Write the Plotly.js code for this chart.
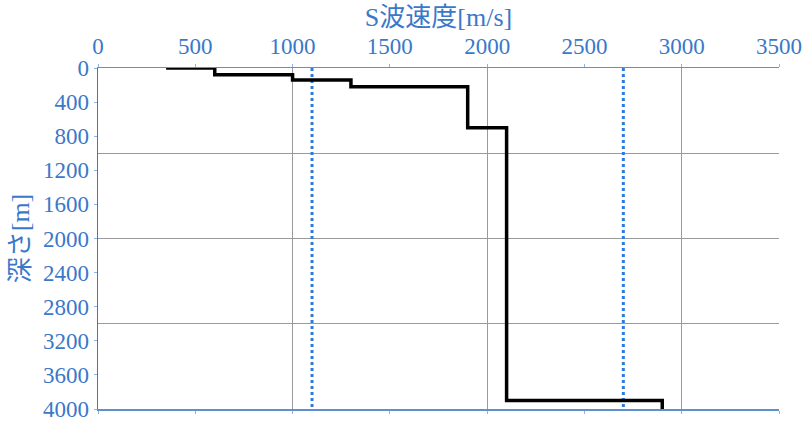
<!DOCTYPE html>
<html>
<head>
<meta charset="utf-8">
<script src="https://cdn.plot.ly/plotly-3.0.1.min.js"></script>
<style>html,body{margin:0;padding:0;background:#fff;}#chart{width:810px;height:426px;}</style>
</head>
<body>
<div id="chart"></div>
<script>
// Step profile: S-wave velocity vs depth (hv steps)
const stepVelocity = [350, 600, 1000, 1300, 1900, 2100, 2900];
const stepDepth    = [0, 80, 140, 220, 700, 3900, 4000];
// Dotted reference velocities
const refVelocityA = [1100, 1100];
const refVelocityB = [2700, 2700];
const refDepth     = [0, 4000];

const xTitle = 'S波速度[m/s]';
const yTitle = '深さ[m]';

const blue = '#3a78c9';
const fontFam = 'Times New Roman, Liberation Serif, Noto Sans CJK JP, serif';
const tickFam = 'Times New Roman, Liberation Serif, DejaVu Serif, serif';

const traces = [
  {x: refVelocityA, y: refDepth, mode: 'lines', line: {color: '#2f7bdc', width: 3, dash: '3px,3px'}, hoverinfo: 'skip'},
  {x: refVelocityB, y: refDepth, mode: 'lines', line: {color: '#2f7bdc', width: 3, dash: '3px,3px'}, hoverinfo: 'skip'},
  {x: stepVelocity, y: stepDepth, mode: 'lines', line: {color: '#000', width: 3.5, shape: 'hv'}, hoverinfo: 'skip'}
];

const layout = {
  width: 810, height: 426,
  margin: {l: 98, r: 31, t: 68, b: 17},
  paper_bgcolor: '#fff', plot_bgcolor: '#fff',
  showlegend: false,
  font: {family: fontFam, color: blue, size: 23},
  xaxis: {
    side: 'top', range: [0, 3500], dtick: 500, tick0: 0,
    showgrid: false, zeroline: false,
    showline: true, linecolor: '#5f8fcf', linewidth: 1.5, mirror: 'ticks',
    ticks: 'outside', ticklen: 3, tickcolor: '#8fb4e3', tickwidth: 1,
    tickfont: {family: tickFam, size: 23, color: blue},
    title: {text: xTitle, font: {family: fontFam, size: 26, color: blue}, standoff: 0}
  },
  yaxis: {
    range: [4000, 0], dtick: 400, tick0: 0,
    showgrid: false, zeroline: false,
    showline: true, linecolor: '#3a78c9', linewidth: 1.5,
    ticks: 'outside', ticklen: 3, tickcolor: '#8fb4e3', tickwidth: 1,
    tickfont: {family: tickFam, size: 23, color: blue},
    title: {text: yTitle, font: {family: fontFam, size: 26, color: blue}, standoff: 6}
  },
  xaxis2: {overlaying: 'x', range: [0, 3500], dtick: 1000, tick0: 0, showgrid: true, gridcolor: '#9a9a9a', gridwidth: 1,
    showticklabels: false, ticks: '', zeroline: false, showline: false},
  yaxis2: {overlaying: 'y', range: [4000, 0], dtick: 1000, tick0: 0, showgrid: true, gridcolor: '#9a9a9a', gridwidth: 1,
    showticklabels: false, ticks: '', zeroline: false, showline: false}
};

// grid carrier trace on the secondary axes
traces.unshift({x: [0], y: [0], xaxis: 'x2', yaxis: 'y2', mode: 'markers', marker: {opacity: 0}, hoverinfo: 'skip'});

Plotly.newPlot('chart', traces, layout, {displayModeBar: false, staticPlot: true});
</script>
</body>
</html>
